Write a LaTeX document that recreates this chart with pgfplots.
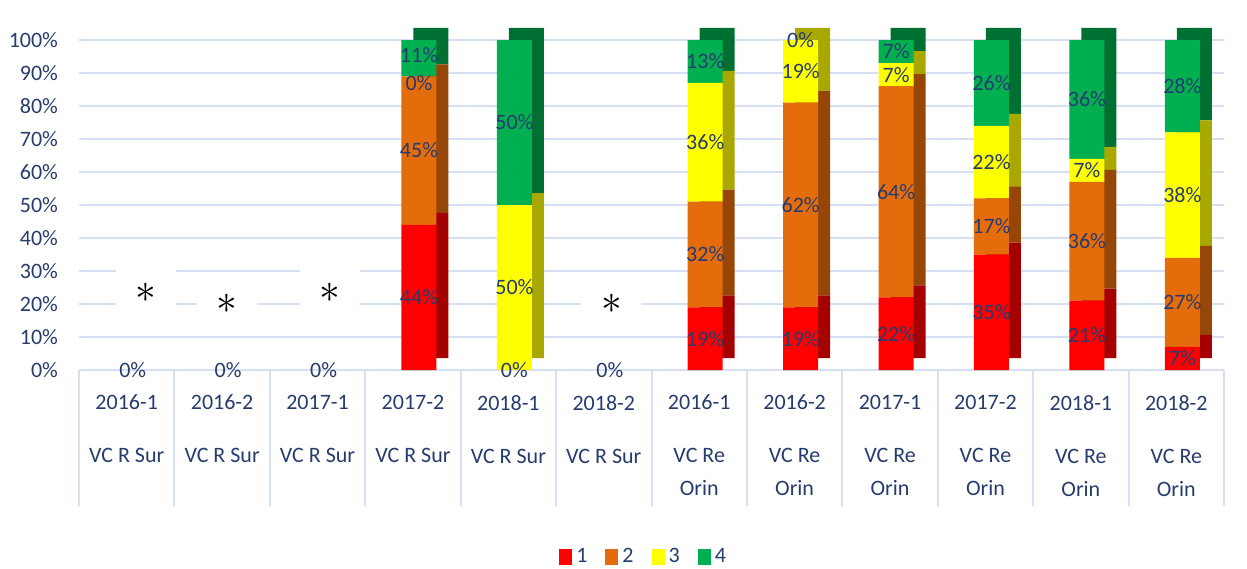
\documentclass[border=0pt]{standalone}
\usepackage{fontspec}
\setmainfont{Carlito}
\usepackage{pgfplots}
\pgfplotsset{compat=1.18}
\usepackage{pgfplotstable}

\definecolor{c1}{RGB}{255,0,0}
\definecolor{c2}{RGB}{228,108,10}
\definecolor{c3}{RGB}{255,255,0}
\definecolor{c4}{RGB}{0,176,80}
\definecolor{d1}{RGB}{165,0,0}
\definecolor{d2}{RGB}{150,70,6}
\definecolor{d3}{RGB}{168,168,0}
\definecolor{d4}{RGB}{0,112,50}
\definecolor{txt}{RGB}{38,60,110}
\definecolor{gridc}{RGB}{214,224,242}

% shares per category (percent), series 1..4
\pgfplotstableread{
x  a  b  c  d
0  0  0  0  0
1  0  0  0  0
2  0  0  0  0
3  44 45 0  11
4  0  0  50 50
5  0  0  0  0
6  19 32 36 13
7  19 62 19 0
8  22 64 7  7
9  35 17 22 26
10 21 36 7  36
11 7  27 38 28
}\datatable

% data labels: middle of each segment
\pgfplotstableread{
x  y     v
0  0     0
1  0     0
2  0     0
3  22    44
3  66.5  45
3  87    0
3  95.5  11
4  0     0
4  25    50
4  75    50
5  0     0
6  9.5   19
6  35    32
6  69    36
6  93.5  13
7  9.5   19
7  50    62
7  90.5  19
7  100   0
8  11    22
8  54    64
8  89.5  7
8  96.5  7
9  17.5  35
9  43.5  17
9  63    22
9  87    26
10 10.5  21
10 39    36
10 60.5  7
10 82    36
11 3.5   7
11 20.5  27
11 53    38
11 86    28
}\labtable

\pgfplotsset{
  /pgf/number format/assume math mode=true,
  base/.style={
    width=572.5pt, height=165pt, scale only axis,
    xmin=-0.5, xmax=11.5, ymin=0, ymax=100, clip=false,
  },
  bars/.style={base, hide axis, ybar stacked, bar width=17.5pt, bar shift=3pt},
  sq/.style={legend image code/.code={\fill[##1] (0pt,-3.8pt) rectangle (6.5pt,3.8pt);}},
}
\tikzset{
  astk/.style={fill=white, minimum width=30pt, minimum height=25pt, inner sep=0pt,
    font=\fontsize{22}{22}\selectfont, text=black},
}

\begin{document}
\begin{tikzpicture}
\useasboundingbox (-39.5pt,-99pt) rectangle (584pt,185pt);

% frame: grid, tick labels, category table
\begin{axis}[base,
  axis x line*=bottom, axis y line*=left,
  y axis line style={draw=none},
  x axis line style={draw=gridc, line width=1pt},
  ytick={0,10,...,100},
  yticklabel={\pgfmathprintnumber{\tick}\%},
  ytick style={draw=none},
  ymajorgrids, grid style={draw=gridc, line width=1pt},
  xtick={0,...,11},
  xticklabels={
    {2016-1\\[13pt]VC R Sur},{2016-2\\[13pt]VC R Sur},{2017-1\\[13pt]VC R Sur},
    {2017-2\\[13pt]VC R Sur},{2018-1\\[13pt]VC R Sur},{2018-2\\[13pt]VC R Sur},
    {2016-1\\[13pt]VC Re\\[3pt]Orin},{2016-2\\[13pt]VC Re\\[3pt]Orin},
    {2017-1\\[13pt]VC Re\\[3pt]Orin},{2017-2\\[13pt]VC Re\\[3pt]Orin},
    {2018-1\\[13pt]VC Re\\[3pt]Orin},{2018-2\\[13pt]VC Re\\[3pt]Orin}},
  minor xtick={-0.5,0.5,...,11.5},
  tick align=outside,
  major tick length=0pt,
  minor tick length=68pt,
  minor tick style={draw=gridc, line width=1pt},
  xticklabel style={align=center, yshift=-9pt, text=txt},
  yticklabel style={xshift=-7pt, text=txt},
  tick label style={font=\fontsize{11}{13.5}\selectfont},
]
\addplot[draw=none] coordinates {(0,0)};
\node[astk] at (axis cs:0.2,23.5) {$\ast$};
\node[astk] at (axis cs:1.05,20) {$\ast$};
\node[astk] at (axis cs:2.13,23.5) {$\ast$};
\node[astk] at (axis cs:5.08,20) {$\ast$};
\end{axis}

% side and top faces
\begin{axis}[bars, at={(6pt,6pt)}]
\addplot[fill=d1, draw=none] table[x=x,y=a]{\datatable};
\addplot[fill=d2, draw=none] table[x=x,y=b]{\datatable};
\addplot[fill=d3, draw=none] table[x=x,y=c]{\datatable};
\addplot[fill=d4, draw=none] table[x=x,y=d]{\datatable};
\end{axis}

% front faces
\begin{axis}[bars,
  legend columns=4,
  legend style={at={(0.494,0)}, anchor=center, yshift=-93.5pt,
    draw=none, fill=none, text=txt, font=\fontsize{11}{13}\selectfont,
    /tikz/every even column/.append style={column sep=7pt}},
]
\addplot[fill=c1, draw=none, sq] table[x=x,y=a]{\datatable};
\addplot[fill=c2, draw=none, sq] table[x=x,y=b]{\datatable};
\addplot[fill=c3, draw=none, sq] table[x=x,y=c]{\datatable};
\addplot[fill=c4, draw=none, sq] table[x=x,y=d]{\datatable};
\legend{1,2,3,4}
\end{axis}

% value labels
\begin{axis}[base, hide axis]
\addplot[draw=none, mark=none, point meta=explicit,
  nodes near coords={\pgfmathprintnumber{\pgfplotspointmeta}\%},
  every node near coord/.style={anchor=center, xshift=3pt, text=txt,
    inner sep=0pt, font=\fontsize{11}{13}\selectfont}]
  table[x=x,y=y,meta=v]{\labtable};
\end{axis}
\end{tikzpicture}
\end{document}
